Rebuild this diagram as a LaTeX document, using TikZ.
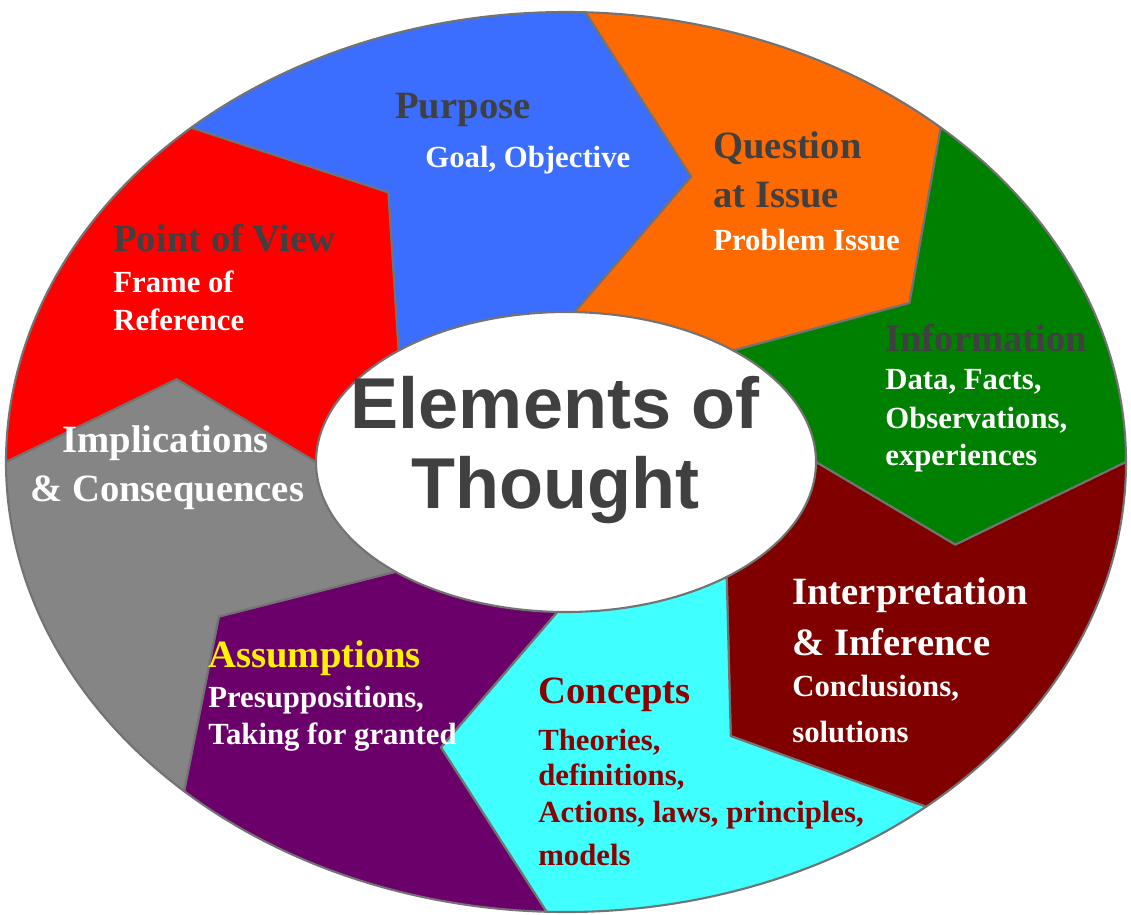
\documentclass[tikz,border=0pt]{standalone}
\usepackage{fontspec}
\setmainfont{Liberation Serif}
\setsansfont{Liberation Sans}
\definecolor{segblue}{HTML}{3B6EFF}
\definecolor{segorange}{HTML}{FF6A00}
\definecolor{seggreen}{HTML}{008000}
\definecolor{segmaroon}{HTML}{800000}
\definecolor{segcyan}{HTML}{40FFFF}
\definecolor{segpurple}{HTML}{6B006B}
\definecolor{seggray}{HTML}{858585}
\definecolor{segred}{HTML}{FF0000}
\definecolor{titlegray}{HTML}{404040}
\definecolor{conceptred}{HTML}{8B0000}
\newcommand\ringseg[4]{\filldraw[#1, draw=black!55, line width=1.2pt, line join=round]
  ({566+560*cos(#2)},{462+450*sin(#2)}) arc[start angle=#2, end angle=#3, x radius=560, y radius=450]
  -- ({566+405*cos(#3+#4)},{462+300*sin(#3+#4)})
  -- ({566+250*cos(#3)},{462+150*sin(#3)}) arc[start angle=#3, end angle=#2, x radius=250, y radius=150]
  -- ({566+405*cos(#2+#4)},{462+300*sin(#2+#4)}) -- cycle;}
\tikzset{
  head/.style={anchor=west, font=\bfseries\fontsize{22}{24}\selectfont, text=titlegray, inner sep=0pt},
  sub/.style={anchor=west, font=\bfseries\fontsize{17.5}{19}\selectfont, text=white, inner sep=0pt}
}
\begin{document}
\begin{tikzpicture}[x=0.02cm, y=-0.02cm]
\useasboundingbox (0,0) rectangle (1131,914);
% ring of segments
\ringseg{segred}{180}{228}{16}
\ringseg{segblue}{228}{272}{16}
\ringseg{segorange}{272}{312}{16}
\ringseg{seggreen}{312}{360}{16}
\ringseg{segmaroon}{0}{50}{16}
\ringseg{segcyan}{50}{92}{16}
\ringseg{segpurple}{92}{133}{16}
\ringseg{seggray}{133}{180}{16}
% centre
\coordinate (hub) at (566,462);
\fill[white] (hub) ellipse[x radius=248, y radius=146];
\node[align=center, font=\sffamily\bfseries\fontsize{41}{46}\selectfont, text=titlegray] (title) at (555,450) {Elements of\\Thought};
% labels
\node[head] (purpose) at (395,110) {Purpose};
\node[sub] (goal) at (425,160) {Goal, Objective};
\node[head] (question) at (713,148) {Question};
\node[head] (issue) at (713,195) {at Issue};
\node[sub] (problem) at (713,240) {Problem Issue};
\node[head] (info) at (885,338) {Information};
\node[sub] (data) at (885,382) {Data, Facts,};
\node[sub] (obs) at (885,420) {Observations,};
\node[sub] (exp) at (885,458) {experiences};
\node[head, text=white] (interp) at (792,595) {Interpretation};
\node[head, text=white] (infer) at (792,642) {\& Inference};
\node[sub] (concl) at (792,688) {Conclusions,};
\node[sub] (solut) at (792,732) {solutions};
\node[head, text=conceptred] (concepts) at (538,695) {Concepts};
\node[sub, text=conceptred] (theories) at (538,742) {Theories,};
\node[sub, text=conceptred] (defs) at (538,777) {definitions,};
\node[sub, text=conceptred] (actions) at (538,815) {Actions, laws, principles,};
\node[sub, text=conceptred] (models) at (538,855) {models};
\node[head, text=yellow] (assume) at (208,658) {Assumptions};
\node[sub] (presup) at (208,700) {Presuppositions,};
\node[sub] (taking) at (208,737) {Taking for granted};
\node[head, text=white] (impl) at (62,443) {Implications};
\node[head, text=white] (conseq) at (30,493) {\& Consequences};
\node[head] (pov) at (113,238) {Point of View};
\node[sub] (frame) at (113,282) {Frame of};
\node[sub] (ref) at (113,320) {Reference};
\end{tikzpicture}
\end{document}
